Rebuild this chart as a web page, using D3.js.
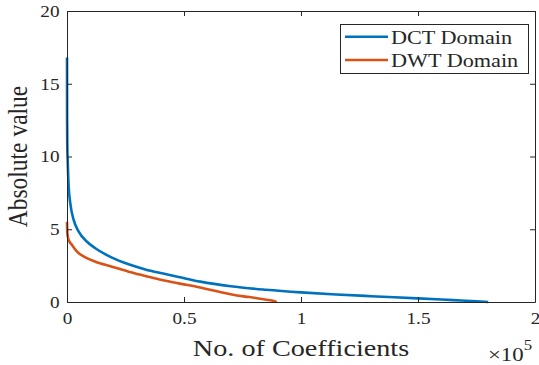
<!DOCTYPE html>
<html>
<head>
<meta charset="utf-8">
<script src="https://cdn.jsdelivr.net/npm/d3@7"></script>
<style>
  html, body { margin: 0; padding: 0; background: #fff; }
  svg { display: block; }
  text { font-family: "Liberation Serif", "Times New Roman", Times, serif; fill: #262626; }
</style>
</head>
<body>
<svg id="chart" width="539" height="365"></svg>
<script>
// ---- data ----
const seriesNames = ["DCT Domain", "DWT Domain"];
const dctX = [0, 40, 120, 300, 726, 1410, 2850, 5000, 8550, 12110, 19230, 26350, 33480, 40600, 47720, 57000, 70000, 85000, 100000, 115000, 130000, 150000, 165000, 175000, 180000];
const dctY = [16.8, 12.5, 10.8, 9.7, 7.9, 6.78, 5.64, 4.83, 4.14, 3.69, 3.05, 2.59, 2.24, 1.97, 1.72, 1.40, 1.08, 0.84, 0.66, 0.52, 0.40, 0.25, 0.13, 0.05, 0.0];
const dwtX = [0, 60, 150, 726, 2140, 4270, 7840, 12110, 19230, 26350, 33480, 40600, 47720, 57410, 65000, 72000, 78000, 84000, 88000, 89600];
const dwtY = [5.52, 5.0, 4.72, 4.26, 3.92, 3.46, 3.07, 2.77, 2.43, 2.08, 1.79, 1.51, 1.28, 0.98, 0.70, 0.46, 0.34, 0.19, 0.08, 0.0];
const xTicks = [0, 50000, 100000, 150000, 200000];
const xTickLabels = ["0", "0.5", "1", "1.5", "2"];
const yTicks = [0, 5, 10, 15, 20];
const yTickLabels = ["0", "5", "10", "15", "20"];
const colors = ["#0072BD", "#D95319"];

// ---- layout ----
const SX = 1.2; // horizontal stretch of glyphs seen in the reference
const L = 67, R = 535, T = 11, B = 302;
const FONT = '"Liberation Serif", "Times New Roman", Times, serif';
const svg = d3.select("#chart");
const x = d3.scaleLinear().domain([0, 200000]).range([L, R]);
const y = d3.scaleLinear().domain([0, 20]).range([B, T]);
const axisColor = "#262626";

// lines
const line = d3.line().x(d => x(d[0])).y(d => y(d[1])).curve(d3.curveMonotoneX);
const series = [d3.zip(dctX, dctY), d3.zip(dwtX, dwtY)];
series.forEach((s, i) => {
  svg.append("path").datum(s)
    .attr("d", line)
    .attr("fill", "none")
    .attr("stroke", colors[i])
    .attr("stroke-width", 2.6)
    .attr("stroke-linejoin", "round");
});

function styleAxis(g) {
  g.attr("font-family", FONT);
  g.select(".domain").attr("stroke", axisColor).attr("stroke-width", 1);
  g.selectAll(".tick line").attr("stroke", axisColor).attr("stroke-width", 1);
}

// bottom axis
const gx = svg.append("g").attr("transform", `translate(0,${B})`)
  .call(d3.axisBottom(x).tickValues(xTicks).tickFormat((d, i) => xTickLabels[i]).tickSizeInner(-5).tickSizeOuter(0));
styleAxis(gx);
gx.selectAll(".tick text")
  .attr("y", 22.5).attr("dy", 0)
  .attr("transform", `scale(${SX},1)`)
  .style("font-family", FONT).style("font-size", "16px").attr("fill", axisColor);

// top axis (ticks only)
const gxt = svg.append("g").attr("transform", `translate(0,${T})`)
  .call(d3.axisTop(x).tickValues(xTicks).tickFormat("").tickSizeInner(-5).tickSizeOuter(0));
styleAxis(gxt);

// left axis
const gy = svg.append("g").attr("transform", `translate(${L},0)`)
  .call(d3.axisLeft(y).tickValues(yTicks).tickFormat((d, i) => yTickLabels[i]).tickSizeInner(-5).tickSizeOuter(0));
styleAxis(gy);
gy.selectAll(".tick text")
  .attr("x", -7.5 / SX).attr("dy", "0.33em")
  .attr("transform", `scale(${SX},1)`)
  .style("font-family", FONT).style("font-size", "16px").attr("fill", axisColor);

// right axis (ticks only)
const gyr = svg.append("g").attr("transform", `translate(${R},0)`)
  .call(d3.axisRight(y).tickValues(yTicks).tickFormat("").tickSizeInner(-5).tickSizeOuter(0));
styleAxis(gyr);

// axis labels
svg.append("text")
  .attr("transform", `translate(${(L + R) / 2},355.5) scale(${SX},1)`)
  .attr("text-anchor", "middle")
  .style("font-size", "23.5px")
  .text("No. of Coefficients");

svg.append("text")
  .attr("transform", `translate(26.5,${(T + B) / 2}) scale(${SX},1) rotate(-90)`)
  .attr("text-anchor", "middle")
  .style("font-size", "23.5px")
  .text("Absolute value");

// exponent label
const ex = svg.append("text")
  .attr("transform", `translate(488,360.5) scale(${SX},1)`)
  .style("font-size", "19px");
ex.append("tspan").text("\u00d710");
ex.append("tspan").attr("dy", -11).style("font-size", "14px").text("5");

// legend
const lg = svg.append("g");
lg.append("rect").attr("x", 340.5).attr("y", 24.5).attr("width", 188).attr("height", 49)
  .attr("fill", "#fff").attr("stroke", axisColor).attr("stroke-width", 1);
const legY = [36.7, 60];
seriesNames.forEach((n, i) => {
  lg.append("line").attr("x1", 345).attr("x2", 388).attr("y1", legY[i]).attr("y2", legY[i])
    .attr("stroke", colors[i]).attr("stroke-width", 2.6);
  lg.append("text")
    .attr("transform", `translate(391,${legY[i] + 6.8}) scale(${SX},1)`)
    .style("font-size", "18.5px")
    .text(n);
});
</script>
</body>
</html>
